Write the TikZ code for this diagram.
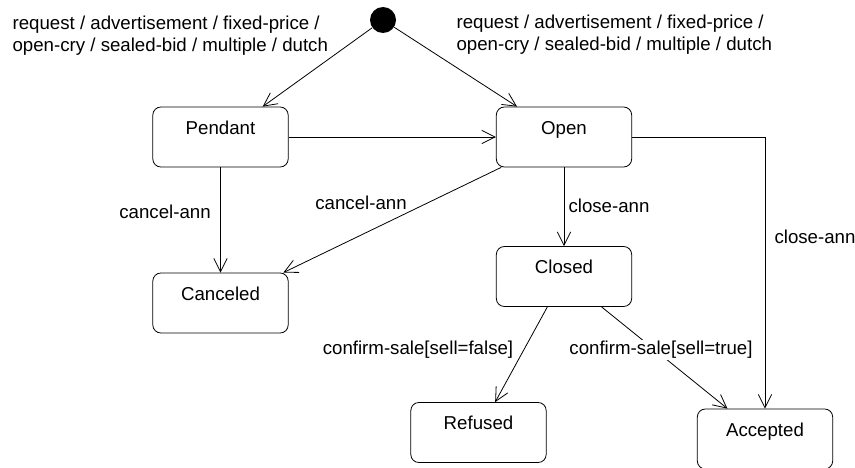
\documentclass[tikz,border=0pt]{standalone}
\usepackage{fontspec}
\setmainfont{Liberation Sans}
\usetikzlibrary{arrows.meta,positioning}

\begin{document}
\begin{tikzpicture}[x=0.75pt,y=-0.75pt,
  state/.style={draw,line width=0.6pt,rounded corners=6pt,minimum width=101.5pt,
    inner xsep=0pt,inner ysep=0pt,text height=20.25pt,text depth=24.75pt,
    font=\fontsize{14}{16.5}\selectfont},
  trans/.style={-{Straight Barb[length=10pt,width=10pt]},line width=0.6pt},
  lbl/.style={font=\fontsize{14}{16.5}\selectfont,inner sep=1pt}]
  \useasboundingbox (0,0) rectangle (855,467);

  % states
  \node[circle,fill=black,minimum size=19.5pt,inner sep=0pt] (init) at (383,20) {};
  \node[state] (pendant) at (220.5,137) {Pendant};
  \node[state] (open) at (564,137) {Open};
  \node[state] (canceled) at (220.5,303) {Canceled};
  \node[state] (closed) at (564,276.5) {Closed};
  \node[state] (refused) at (478.5,432.5) {Refused};
  \node[state] (accepted) at (765,439) {Accepted};

  % transitions
  \draw[trans] (init) -- (pendant);
  \draw[trans] (init) -- (open);
  \draw[trans] (pendant) -- (open);
  \draw[trans] (pendant) -- (canceled);
  \draw[trans] (open) -- (canceled);
  \draw[trans] (open) -- (closed);
  \draw[trans] (open) -| (accepted);
  \draw[trans] (closed) -- (refused);
  \draw[trans] (closed) -- (accepted);

  % labels
  \node[lbl,anchor=west,align=left] (reqpend) at (11,36) {request / advertisement / fixed-price /\\open-cry / sealed-bid / multiple / dutch};
  \node[lbl,anchor=west,align=left] (reqopen) at (455,35) {request / advertisement / fixed-price /\\open-cry / sealed-bid / multiple / dutch};
  \node[lbl] (cancpend) at (165,212) {cancel-ann};
  \node[lbl] (cancopen) at (361,203) {cancel-ann};
  \node[lbl] (closeopen) at (609,206) {close-ann};
  \node[lbl] (closeacc) at (815,237) {close-ann};
  \node[lbl] (sellfalse) at (418,350) {confirm-sale[sell=false]};
  \node[lbl,fill=white] (selltrue) at (661,350) {confirm-sale[sell=true]};
\end{tikzpicture}
\end{document}
